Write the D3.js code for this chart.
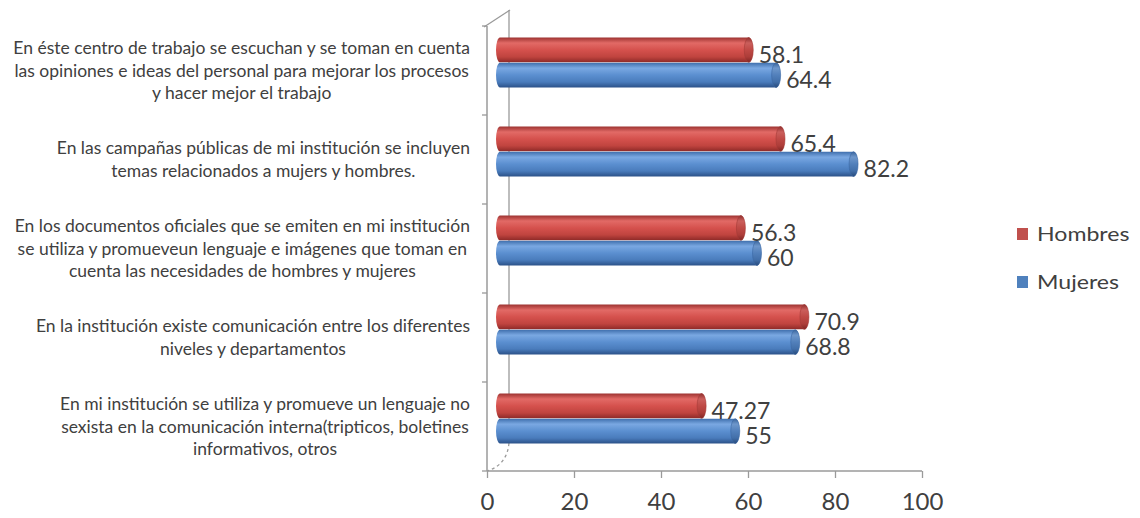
<!DOCTYPE html>
<html><head><meta charset="utf-8">
<script src="https://cdn.jsdelivr.net/npm/d3@7"></script>
<style>html,body{margin:0;padding:0;background:#fff;}svg{display:block;}</style>
</head><body>
<svg id="chart" width="1140" height="518"></svg>
<script>
const categories = [
  ["En éste centro de trabajo se escuchan y se toman en cuenta", "las opiniones e ideas del personal para mejorar los procesos", "y hacer mejor el trabajo"],
  ["En las campañas públicas de mi institución se incluyen", "temas relacionados a mujers y hombres."],
  ["En los documentos oficiales que se emiten en mi institución", "se utiliza y promueveun lenguaje e imágenes que toman en", "cuenta las necesidades de hombres y mujeres"],
  ["En la institución existe comunicación entre los diferentes", "niveles y departamentos"],
  ["En mi institución se utiliza  y promueve un lenguaje no", "sexista en la comunicación interna(tripticos, boletines", "informativos, otros"]
];
const seriesNames = ["Hombres", "Mujeres"];
const hombres = [58.1, 65.4, 56.3, 70.9, 47.27];
const mujeres = [64.4, 82.2, 60, 68.8, 55];
const xTicks = [0, 20, 40, 60, 80, 100];

const svg = d3.select("#chart");
const pLeft = 487, pRight = 922, pTop = 26, pBottom = 471;
const depthX = 22, depthY = -16;
const barDX = 9, barDY = -8;
const font = "Lato, 'Open Sans', sans-serif";
const textColor = "#404040";
const axisColor = "#9a9a9a";

const x = d3.scaleLinear().domain([0, 100]).range([pLeft, pRight]);
const y = d3.scaleBand().domain(d3.range(categories.length)).range([pTop, pBottom]);
const ys = d3.scaleBand().domain(seriesNames).range([0, y.bandwidth()]).paddingInner(0.02).paddingOuter(0.78);

const colors = {
  Hombres: {stops: ["#9e3432", "#e26a66", "#d5514d", "#c0443f", "#8e2a28"], cap: "#a53a37"},
  Mujeres: {stops: ["#3f6fad", "#7aa8e2", "#5b8fd0", "#4a7cbc", "#2c5289"], cap: "#3a68a4"}
};
const defs = svg.append("defs");
seriesNames.forEach(s => {
  const g = defs.append("linearGradient").attr("id", "g" + s).attr("x1", 0).attr("y1", 0).attr("x2", 0).attr("y2", 1);
  const offs = [0, 0.22, 0.5, 0.78, 1];
  colors[s].stops.forEach((c, i) => g.append("stop").attr("offset", offs[i]).attr("stop-color", c));
  const gc = defs.append("linearGradient").attr("id", "c" + s).attr("x1", 0).attr("y1", 0).attr("x2", 0).attr("y2", 1);
  colors[s].stops.forEach((c, i) => gc.append("stop").attr("offset", offs[i]).attr("stop-color", d3.color(c).darker(0.3)));
});

// walls / 3D frame
const frame = svg.append("g").attr("stroke", axisColor).attr("fill", "none").attr("stroke-width", 1.3);
frame.append("line").attr("x1", pLeft + depthX).attr("y1", pTop + depthY).attr("x2", pLeft + depthX).attr("y2", pBottom + depthY - 12);
frame.append("line").attr("x1", pLeft - 3).attr("y1", pTop + 1).attr("x2", pLeft + depthX + 1).attr("y2", pTop + depthY);
frame.append("path").attr("stroke-dasharray", "3,3")
  .attr("d", `M${pLeft + depthX},${pBottom + depthY - 12} Q${pLeft + depthX - 2},${pBottom - 6} ${pLeft},${pBottom}`);

// left (category) axis
svg.append("line").attr("x1", pLeft).attr("y1", pTop).attr("x2", pLeft).attr("y2", pBottom).attr("stroke", axisColor).attr("stroke-width", 1.5);
svg.append("g").selectAll("line").data(d3.range(categories.length + 1)).join("line")
  .attr("x1", pLeft - 5).attr("x2", pLeft)
  .attr("y1", i => i < categories.length ? y(i) : pBottom)
  .attr("y2", i => i < categories.length ? y(i) : pBottom)
  .attr("stroke", axisColor).attr("stroke-width", 1.3);

// x axis
const xAxis = svg.append("g").attr("transform", `translate(0,${pBottom})`)
  .call(d3.axisBottom(x).tickValues(xTicks).tickSize(7).tickPadding(15).tickFormat(d3.format("d")));
xAxis.select(".domain").attr("stroke", axisColor).attr("stroke-width", 1.5).attr("d", `M${pLeft},0H${pRight}`);
xAxis.selectAll(".tick line").attr("stroke", axisColor).attr("stroke-width", 1.3);
xAxis.selectAll(".tick text").attr("fill", textColor).style("font-family", font).style("font-size", "24px").attr("dy", "0.71em");

// bars
const data = [];
categories.forEach((c, i) => {
  data.push({i, s: "Hombres", v: hombres[i]});
  data.push({i, s: "Mujeres", v: mujeres[i]});
});
const bh = ys.bandwidth();
const bars = svg.append("g").selectAll("g").data(data).join("g")
  .attr("transform", d => `translate(${barDX},${y(d.i) + ys(d.s) + barDY})`);
bars.append("path")
  .attr("d", d => {
    const x0 = x(0), x1 = x(d.v), r = bh / 2, rx = 4;
    return `M${x0 + rx},0 H${x1} A${rx},${r} 0 0 1 ${x1},${bh} H${x0 + rx} A${rx},${r} 0 0 1 ${x0 + rx},0 Z`;
  })
  .attr("fill", d => `url(#g${d.s})`);
bars.append("ellipse")
  .attr("cx", d => x(d.v)).attr("cy", bh / 2).attr("rx", 4.5).attr("ry", bh / 2)
  .attr("fill", d => `url(#c${d.s})`).attr("stroke", d => colors[d.s].cap).attr("stroke-width", 0.6);

// value labels
svg.append("g").selectAll("text").data(data).join("text")
  .attr("x", d => x(d.v) + barDX + 10)
  .attr("y", d => y(d.i) + ys(d.s) + barDY + bh / 2 + 5)
  .attr("dy", "0.36em")
  .attr("fill", textColor).style("font-family", font).style("font-size", "23px")
  .text(d => String(d.v));

// category labels
const labelRight = 470, lineH = 22.5;
const labels = svg.append("g").selectAll("text").data(categories).join("text")
  .attr("text-anchor", "middle").attr("fill", textColor)
  .style("font-family", font).style("font-size", "17.5px");
labels.each(function(lines, i) {
  const t = d3.select(this);
  const cy = y(i) + y.bandwidth() / 2;
  const y0 = cy - (lines.length - 1) * lineH / 2;
  lines.forEach((ln, k) => t.append("tspan").attr("y", y0 + k * lineH).attr("dy", "0.35em").text(ln));
  let maxW = 0;
  t.selectAll("tspan").each(function() { maxW = Math.max(maxW, this.getComputedTextLength()); });
  t.selectAll("tspan").attr("x", labelRight - maxW / 2);
});

// legend
const legend = svg.append("g").selectAll("g").data(seriesNames).join("g")
  .attr("transform", (d, i) => `translate(1017,${234 + i * 48})`);
legend.append("rect").attr("x", 0).attr("y", -6).attr("width", 11).attr("height", 12)
  .attr("fill", d => d === "Hombres" ? "#c0504d" : "#4f81bd");
legend.append("text").attr("transform", "translate(20,0) scale(1.25,1)").attr("dy", "0.36em")
  .attr("fill", textColor).style("font-family", font).style("font-size", "18.5px").text(d => d);
</script>
</body></html>
